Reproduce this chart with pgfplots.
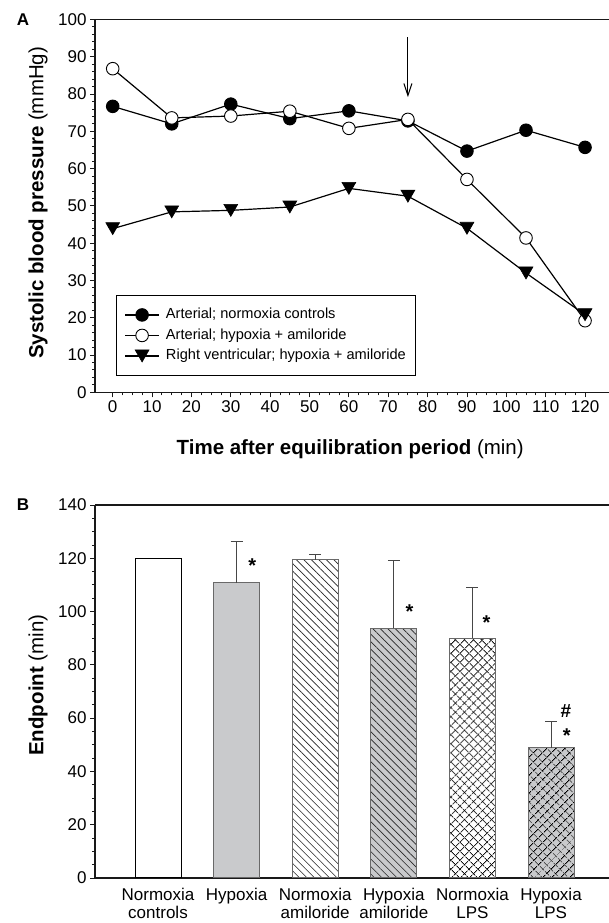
\documentclass[border=0pt]{standalone}
\usepackage{pgfplots}
\pgfplotsset{compat=1.18}
\usepackage{fontspec}
\setmainfont{Liberation Sans}
\usetikzlibrary{patterns.meta,arrows.meta}
\definecolor{barfill}{RGB}{201,202,204}
\definecolor{barline}{RGB}{105,105,105}
\definecolor{errline}{RGB}{70,70,70}
\pgfplotsset{
  common/.style={
    scale only axis, width=517pt,
    tick align=outside, tick pos=left,
    separate axis lines,
    axis line style={line width=1.3pt, black!90},
    major tick length=5pt, minor tick length=3pt,
    tick style={line width=0.9pt, black!90},
    tick label style={font=\fontsize{17}{19}\selectfont},
    /pgf/number format/assume math mode=true,
    label style={font=\fontsize{20.5}{24}\selectfont},
    clip=false,
  },
  barstyle/.style={ybar, bar shift=0pt, bar width=46pt, line width=1pt},
  err/.style={error bars/.cd, y dir=plus, y explicit,
    error bar style={line width=1pt, errline},
    error mark options={rotate=90, mark size=6pt, line width=1pt, errline}},
  diag/.style={postaction={pattern color=black!85, pattern={Lines[angle=-45,distance=5.3pt,line width=0.65pt]}}},
  cross/.style={postaction={pattern color=black, pattern={Lines[angle=-45,distance=6.5pt,line width=0.8pt]}},
                postaction={pattern color=black, pattern={Lines[angle=45,distance=6.5pt,line width=0.8pt]}}},
}
\begin{document}
\begin{tikzpicture}
\useasboundingbox (0,0) rectangle (608pt,923pt);
\begin{axis}[common,
  at={(95pt,530.7pt)}, anchor=south west, height=372.8pt,
  xmin=-4.5, xmax=126.85, ymin=0, ymax=100,
  xtick={0,10,...,120}, minor x tick num=3,
  ytick={0,10,...,100}, minor y tick num=4,
  xlabel={\textbf{Time after equilibration period} (min)},
  ylabel={\textbf{Systolic blood pressure} (mmHg)},
  xlabel style={at={(axis description cs:0.4936,-0.168)}, anchor=base},
  ylabel style={at={(axis description cs:-0.11025,0.508)}, anchor=center},
  legend style={at={(0.0406,0.261)}, anchor=north west, draw=black, line width=1pt,
    font=\fontsize{14.6}{16}\selectfont, inner xsep=8pt, inner ysep=10.7pt,
    row sep=3pt, column sep=4.3pt,
    nodes={inner sep=2pt, text height=10.5pt, text depth=3pt}},
  legend cell align=left,
  legend image code/.code={\draw[mark repeat=2,mark phase=2] plot coordinates {(0pt,0pt)(17pt,0pt)(34pt,0pt)};},
]
\addplot[black, line width=1.2pt, mark=*, mark size=6.3pt, mark options={fill=black, draw=black, line width=0.9pt}]
  coordinates {(0,76.7)(15,72.0)(30,77.3)(45,73.4)(60,75.5)(75,72.8)(90,64.7)(105,70.3)(120,65.7)};
\addlegendentry{Arterial; normoxia controls}
\addplot[black, line width=1.2pt, mark=*, mark size=6.3pt, mark options={fill=white, draw=black, line width=0.9pt}]
  coordinates {(0,86.8)(15,73.6)(30,74.1)(45,75.4)(60,70.8)(75,73.2)(90,57.1)(105,41.4)(120,19.2)};
\addlegendentry{Arterial; hypoxia + amiloride}
\addplot[black, line width=1.2pt, mark=triangle*, mark size=8pt, mark options={fill=black, draw=black, line width=0.6pt, yshift=2pt, rotate=180}]
  coordinates {(0,43.9)(15,48.4)(30,48.8)(45,49.7)(60,54.7)(75,52.6)(90,44.0)(105,32.0)(120,20.8)};
\addlegendentry{Right ventricular; hypoxia + amiloride}
\draw[line width=1pt, -{Straight Barb[length=12pt,width=8pt]}] (axis cs:75,95.3) -- (axis cs:75,79.2);
\end{axis}

\begin{axis}[common,
  at={(95pt,45pt)}, anchor=south west, height=373pt,
  xmin=-0.8015, xmax=5.776, ymin=0, ymax=140,
  xtick={0,...,5}, xtick style={draw=none},
  xticklabels={{Normoxia\\controls},{Hypoxia},{Normoxia\\amiloride},{Hypoxia\\amiloride},{Normoxia\\LPS},{Hypoxia\\LPS}},
  xticklabel style={align=center, font=\fontsize{17}{18.4}\selectfont, yshift=-1.5pt},
  ytick={0,20,...,140}, minor y tick num=3,
  ylabel={\textbf{Endpoint} (min)},
  ylabel style={at={(axis description cs:-0.11025,0.517)}, anchor=center},
]
\addplot[barstyle, fill=white, draw=black] coordinates {(0,120)};
\addplot[barstyle, fill=barfill, draw=barline, err] coordinates {(1,110.8) +- (0,15.4)};
\addplot[barstyle, fill=white, draw=barline, diag, err]
  coordinates {(2,119.4) +- (0,2.1)};
\addplot[barstyle, fill=barfill, draw=barline, diag, err]
  coordinates {(3,93.7) +- (0,25.4)};
\addplot[barstyle, fill=white, draw=barline, cross, err]
  coordinates {(4,90.0) +- (0,19.0)};
\addplot[barstyle, fill=barfill, draw=barline, cross, err]
  coordinates {(5,48.8) +- (0,10.0)};
\node[font=\fontsize{20}{20}\selectfont\bfseries, yshift=-4.3pt] at (axis cs:1.2,118.7) {*};
\node[font=\fontsize{20}{20}\selectfont\bfseries, yshift=-4.3pt] at (axis cs:3.2,101.6) {*};
\node[font=\fontsize{20}{20}\selectfont\bfseries, yshift=-4.3pt] at (axis cs:4.18,97.5) {*};
\node[font=\fontsize{20}{20}\selectfont\bfseries, yshift=-4.3pt] at (axis cs:5.2,55.2) {*};
\node[font=\fontsize{19}{19}\selectfont\bfseries] at (axis cs:5.19,62.8) {\#};
\end{axis}
\node[font=\fontsize{17}{17}\selectfont\bfseries] at (23pt,903.3pt) {A};
\node[font=\fontsize{17}{17}\selectfont\bfseries] at (23pt,418pt) {B};
\end{tikzpicture}
\end{document}
